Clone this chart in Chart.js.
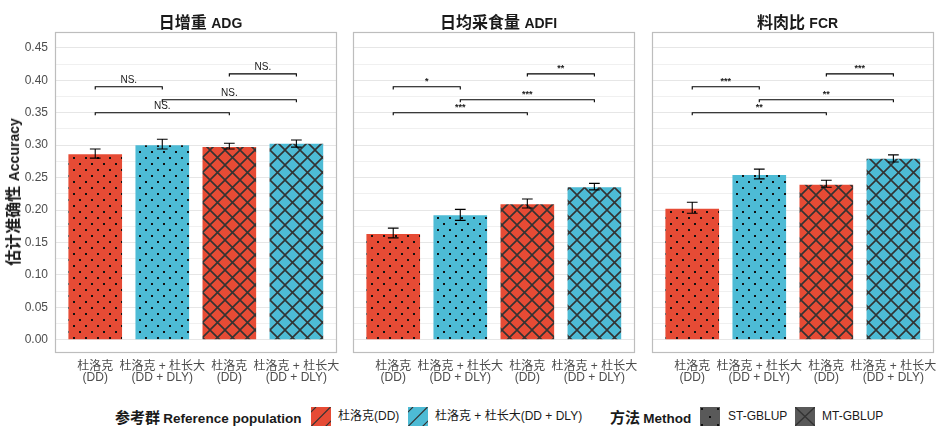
<!DOCTYPE html>
<html><head><meta charset="utf-8">
<script src="https://cdn.jsdelivr.net/npm/chart.js@4.4.1/dist/chart.umd.min.js"></script>
<style>
html,body{margin:0;padding:0;background:#fff;}
#root{position:relative;width:950px;height:441px;overflow:hidden;font-family:'Liberation Sans',Arial,'Noto Sans CJK SC',sans-serif;color:#1a1a1a;}
.pw{position:absolute;top:0;height:395px;}
.ptitle{position:absolute;top:10px;height:22px;line-height:22px;text-align:center;font-weight:bold;white-space:nowrap;}
.cjk{font-family:'Noto Sans CJK SC','Liberation Sans',sans-serif;}
.lg{position:absolute;top:407px;height:19px;line-height:19px;white-space:nowrap;font-size:12px;}
.sw{position:absolute;top:407px;width:20px;height:19px;}
#ytitle{position:absolute;left:13px;top:192px;transform:translate(-50%,-50%) rotate(-90deg);white-space:nowrap;font-weight:bold;line-height:20px;}
</style></head><body>
<div id="root">
  <div class="pw" style="left:0;width:348px"><canvas id="c0"></canvas></div>
  <div class="pw" style="left:352px;width:294px"><canvas id="c1"></canvas></div>
  <div class="pw" style="left:651px;width:294px"><canvas id="c2"></canvas></div>
  <div class="ptitle" style="left:55px;width:291px"><span class="cjk" style="font-size:16px">日增重</span> <span style="font-size:14px">ADG</span></div>
  <div class="ptitle" style="left:353px;width:291px"><span class="cjk" style="font-size:16px">日均采食量</span> <span style="font-size:14px">ADFI</span></div>
  <div class="ptitle" style="left:652px;width:291px"><span class="cjk" style="font-size:16px">料肉比</span> <span style="font-size:14px">FCR</span></div>
  <div id="ytitle"><span class="cjk" style="font-size:16px">估计准确性</span> <span style="font-size:14px">Accuracy</span></div>

  <div class="lg" style="left:115px;font-weight:bold"><span class="cjk" style="font-size:15px">参考群</span> <span style="font-size:13.5px">Reference population</span></div>
  <canvas class="sw" id="sw0" width="20" height="19" style="left:311px"></canvas>
  <div class="lg" style="left:338px" id="lg0"></div>
  <canvas class="sw" id="sw1" width="20" height="19" style="left:408px"></canvas>
  <div class="lg" style="left:435px" id="lg1"></div>
  <div class="lg" style="left:610px;font-weight:bold"><span class="cjk" style="font-size:15px">方法</span> <span style="font-size:13.5px">Method</span></div>
  <canvas class="sw" id="sw2" width="20" height="19" style="left:700px"></canvas>
  <div class="lg" style="left:728px" id="lg2"></div>
  <canvas class="sw" id="sw3" width="20" height="19" style="left:795px"></canvas>
  <div class="lg" style="left:822px" id="lg3"></div>
</div>
<script>
const FONT = "'Liberation Sans', Arial, 'Noto Sans CJK SC', sans-serif";

// ---------- data ----------
const categories = [['杜洛克','(DD)'], ['杜洛克 + 杜长大','(DD + DLY)'], ['杜洛克','(DD)'], ['杜洛克 + 杜长大','(DD + DLY)']];
const xPositions = [1, 2, 3, 4];
const referencePop = ['DD', 'DD+DLY', 'DD', 'DD+DLY'];
const methods = ['ST', 'ST', 'MT', 'MT'];

const adgValues = [0.286, 0.300, 0.297, 0.302];
const adgLower  = [0.280, 0.294, 0.294, 0.297];
const adgUpper  = [0.294, 0.309, 0.303, 0.308];

const adfiValues = [0.163, 0.192, 0.209, 0.235];
const adfiLower  = [0.157, 0.184, 0.203, 0.231];
const adfiUpper  = [0.172, 0.201, 0.217, 0.241];

const fcrValues = [0.202, 0.254, 0.239, 0.279];
const fcrLower  = [0.195, 0.248, 0.235, 0.274];
const fcrUpper  = [0.212, 0.263, 0.246, 0.285];

const sigPairs   = [[1, 2], [3, 4], [2, 4], [1, 3]];
const sigHeights = [0.39, 0.41, 0.37, 0.35];
const adgSig  = ['NS.', 'NS.', 'NS.', 'NS.'];
const adfiSig = ['*', '**', '***', '***'];
const fcrSig  = ['***', '***', '**', '**'];

const yTickValues  = [0, 0.05, 0.10, 0.15, 0.20, 0.25, 0.30, 0.35, 0.40, 0.45];
const yMinorValues = [0.025, 0.075, 0.125, 0.175, 0.225, 0.275, 0.325, 0.375, 0.425];

const refLegendLabels = ['杜洛克(DD)', '杜洛克 + 杜长大(DD + DLY)'];
const methodLegendLabels = ['ST-GBLUP', 'MT-GBLUP'];

// ---------- styles ----------
const COLORS = {'DD': '#E64B35', 'DD+DLY': '#4DBBD5'};
const PAT_COL = '#333333';
const Y_MIN = -0.0205, Y_MAX = 0.4745;
const CAP_HALF = 0.08, TIP = 0.004;

function makePattern(color, kind) {
  const s = kind === 'ST' ? 12 : 15;
  const c = document.createElement('canvas');
  c.width = s; c.height = s;
  const g = c.getContext('2d');
  g.fillStyle = color; g.fillRect(0, 0, s, s);
  if (kind === 'ST') {
    g.fillStyle = '#111';
    g.fillRect(1, 1, 2, 2); g.fillRect(7, 7, 2, 2);
  } else {
    g.strokeStyle = PAT_COL; g.lineWidth = 1.6; g.beginPath();
    for (const o of [-s, 0, s]) { g.moveTo(o, 0); g.lineTo(o + s, s); g.moveTo(o + s, 0); g.lineTo(o, s); }
    g.stroke();
  }
  return g.createPattern(c, 'repeat');
}

const gridValues = yTickValues.concat(yMinorValues).sort((a, b) => a - b);
const isMajor = v => yTickValues.some(t => Math.abs(t - v) < 1e-9);

const panels = [
  {values: adgValues, lower: adgLower, upper: adgUpper, sig: adgSig},
  {values: adfiValues, lower: adfiLower, upper: adfiUpper, sig: adfiSig},
  {values: fcrValues, lower: fcrLower, upper: fcrUpper, sig: fcrSig}
];

const overlay = {
  id: 'overlay',
  afterDatasetsDraw(chart, args, opts) {
    const {ctx, chartArea: a, scales: {x, y}} = chart;
    const p = opts.panel;
    ctx.save();
    ctx.strokeStyle = '#000'; ctx.lineWidth = 1.1;
    p.values.forEach((v, i) => {
      const px = x.getPixelForValue(xPositions[i]);
      const hw = x.getPixelForValue(xPositions[i] + CAP_HALF) - px;
      const yl = y.getPixelForValue(p.lower[i]), yu = y.getPixelForValue(p.upper[i]);
      ctx.beginPath();
      ctx.moveTo(px, yl); ctx.lineTo(px, yu);
      ctx.moveTo(px - hw, yl); ctx.lineTo(px + hw, yl);
      ctx.moveTo(px - hw, yu); ctx.lineTo(px + hw, yu);
      ctx.stroke();
    });
    sigPairs.forEach(([s, e], k) => {
      const x1 = x.getPixelForValue(s), x2 = x.getPixelForValue(e);
      const yy = y.getPixelForValue(sigHeights[k]);
      const yt = y.getPixelForValue(sigHeights[k] - TIP);
      ctx.strokeStyle = '#000'; ctx.lineWidth = 1.1;
      ctx.beginPath();
      ctx.moveTo(x1, yt); ctx.lineTo(x1, yy); ctx.lineTo(x2, yy); ctx.lineTo(x2, yt);
      ctx.stroke();
      const lab = p.sig[k];
      ctx.fillStyle = '#1a1a1a'; ctx.textAlign = 'center';
      if (lab.indexOf('*') >= 0) {
        ctx.font = 'bold 9px ' + FONT; ctx.textBaseline = 'middle';
        ctx.fillText(lab, (x1 + x2) / 2, yy - 5.5);
      } else {
        ctx.font = '10px ' + FONT; ctx.textBaseline = 'middle';
        ctx.fillText(lab, (x1 + x2) / 2, yy - 6.5);
      }
    });
    ctx.strokeStyle = '#bdbdbd'; ctx.lineWidth = 1.2;
    ctx.strokeRect(Math.round(a.left) + 0.5, Math.round(a.top) + 0.5, Math.round(a.width) - 1, Math.round(a.height) - 1);
    ctx.restore();
  }
};

function build(id, idx) {
  const p = panels[idx];
  const ctx = document.getElementById(id).getContext('2d');
  const bg = p.values.map((v, i) => makePattern(COLORS[referencePop[i]], methods[i]));
  return new Chart(ctx, {
    type: 'bar',
    data: {
      datasets: [{
        data: p.values.map((v, i) => ({x: xPositions[i], y: v})),
        backgroundColor: bg,
        borderWidth: 0,
        categoryPercentage: 1.0,
        barPercentage: 0.8
      }]
    },
    options: {
      responsive: true, maintainAspectRatio: false, animation: false,
      layout: {padding: {left: idx === 0 ? 0 : 1, right: 2, top: 32, bottom: 0}},
      plugins: {legend: {display: false}, title: {display: false}, tooltip: {enabled: false}, overlay: {panel: p}},
      scales: {
        x: {
          type: 'linear', min: 0.4, max: 4.6, offset: false, bounds: 'data',
          afterBuildTicks: s => { s.ticks = xPositions.map(v => ({value: v})); },
          afterFit: s => { s.height = 42; },
          grid: {display: false, drawTicks: false, offset: false},
          border: {display: false},
          ticks: {
            autoSkip: false, maxRotation: 0, minRotation: 0, padding: 8.5,
            color: '#4d4d4d', font: {size: 12, family: FONT, lineHeight: 0.92},
            callback: (v, i) => categories[i]
          }
        },
        y: {
          type: 'linear', min: Y_MIN, max: Y_MAX,
          afterBuildTicks: s => { s.ticks = gridValues.map(v => ({value: v})); },
          afterFit: s => { s.width = idx === 0 ? 55 : 0; },
          grid: {
            drawTicks: false,
            color: c => (c.tick && isMajor(c.tick.value)) ? '#e6e6e6' : '#f0f0f0',
            lineWidth: 1
          },
          border: {display: false},
          ticks: {
            display: idx === 0, padding: 7, color: '#4d4d4d',
            font: {size: 12, family: FONT},
            callback: v => isMajor(v) ? v.toFixed(2) : ''
          }
        }
      }
    },
    plugins: [overlay]
  });
}

build('c0', 0); build('c1', 1); build('c2', 2);

// ---------- legend ----------
function swatch(id, fill, kind) {
  const g = document.getElementById(id).getContext('2d');
  const w = 20, h = 19;
  g.fillStyle = fill; g.fillRect(0, 0, w, h);
  g.strokeStyle = PAT_COL; g.lineWidth = 1.2;
  if (kind === 'stripe') {
    g.beginPath();
    for (const c of [5, 19.5, 34]) { g.moveTo(c, 0); g.lineTo(c - 20, 20); }
    g.stroke();
  } else if (kind === 'ST') {
    g.fillStyle = '#111';
    [[1, 1], [9, 9], [17, 1], [1, 17], [17, 17]].forEach(([a, b]) => g.fillRect(a, b, 2, 2));
  } else {
    g.strokeStyle = '#333'; g.lineWidth = 1.3;
    g.beginPath(); g.moveTo(0, 0); g.lineTo(w, h); g.moveTo(w, 0); g.lineTo(0, h); g.stroke();
  }
}
swatch('sw0', COLORS['DD'], 'stripe');
swatch('sw1', COLORS['DD+DLY'], 'stripe');
swatch('sw2', '#595959', 'ST');
swatch('sw3', '#595959', 'MT');
document.getElementById('lg0').textContent = refLegendLabels[0];
document.getElementById('lg1').textContent = refLegendLabels[1];
document.getElementById('lg2').textContent = methodLegendLabels[0];
document.getElementById('lg3').textContent = methodLegendLabels[1];
</script>
</body></html>
